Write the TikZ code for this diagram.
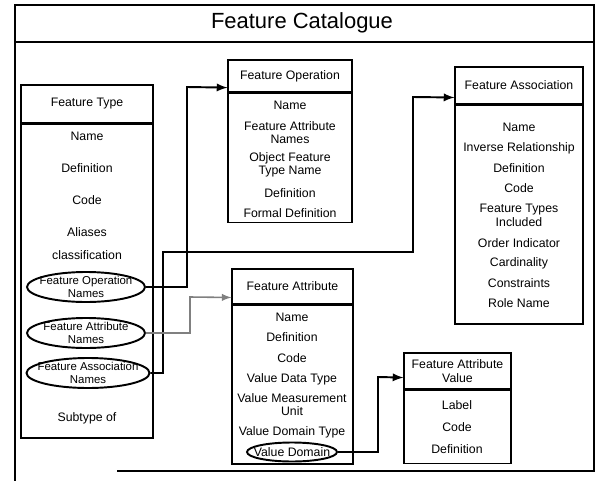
\documentclass[tikz,border=0pt]{standalone}
\usepackage{fontspec}
\setmainfont{Liberation Sans}
\usepackage{tikz}
\usetikzlibrary{arrows,shapes,positioning}
\tikzset{hdr/.style={draw, line width=0.6pt, inner sep=0pt, align=center, font=\fontsize{7}{7.6}\selectfont},
         boxbody/.style={draw, line width=0.6pt, inner sep=0pt, anchor=north},
         itm/.style={align=center, inner sep=0pt, font=\fontsize{7}{7.6}\selectfont},
         ovaltext/.style={align=center, inner sep=0pt, font=\fontsize{6.5}{7.2}\selectfont},
         oval/.style={draw, ellipse, line width=1.1pt, inner sep=0pt},
         conn/.style={line width=1.1pt, ->, >=latex}}

\begin{document}
\begin{tikzpicture}[x=0.02cm, y=-0.02cm]
\useasboundingbox (0,0) rectangle (600,481);

% frame and title
\draw[line width=1.1pt] (15,481) -- (15,5) -- (594,5) -- (594,471) -- (117,471);
\draw[line width=1.1pt] (15,42) -- (594,42);
\node[font=\fontsize{12.5}{14}\selectfont] (title) at (302,23) {Feature Catalogue};

% Feature Type
\node[hdr, minimum width=2.64cm, minimum height=0.76cm] (ftypehead) at (87,104) {Feature Type};
\node[boxbody, minimum width=2.64cm, minimum height=6.28cm] (ftypebody) at (ftypehead.south) {};
\node[itm] (ftname) at (87,136) {Name};
\node[itm] (ftdef) at (87,168) {Definition};
\node[itm] (ftcode) at (87,200) {Code};
\node[itm] (ftalias) at (87,232) {Aliases};
\node[itm] (ftclass) at (87,255) {classification};
\node[oval, minimum width=2.36cm, minimum height=0.6cm] (fon) at (86,287) {};
\node[ovaltext] at (fon) {Feature Operation\\Names};
\node[oval, minimum width=2.36cm, minimum height=0.6cm] (fan) at (86,333) {};
\node[ovaltext] at (fan) {Feature Attribute\\Names};
\node[oval, minimum width=2.46cm, minimum height=0.6cm] (fasn) at (88,373) {};
\node[ovaltext] at (fasn) {Feature Association\\Names};
\node[itm] (ftsub) at (87,418) {Subtype of};

% Feature Operation
\node[hdr, minimum width=2.48cm, minimum height=0.64cm] (fophead) at (290,76) {Feature Operation};
\node[boxbody, minimum width=2.48cm, minimum height=2.58cm] (fopbody) at (fophead.south) {};
\node[itm] (foname) at (290,105) {Name};
\node[itm] (foattr) at (290,132.5) {Feature Attribute\\Names};
\node[itm] (foobj) at (290,165) {Object Feature\\Type Name};
\node[itm] (fodef) at (290,193) {Definition};
\node[itm] (foformal) at (290,213) {Formal Definition};

% Feature Association
\node[hdr, minimum width=2.56cm, minimum height=0.74cm] (fassochead) at (519,85.5) {Feature Association};
\node[boxbody, minimum width=2.56cm, minimum height=4.38cm] (fassocbody) at (fassochead.south) {};
\node[itm] (faname) at (519,127) {Name};
\node[itm] (fainv) at (519,148) {Inverse Relationship};
\node[itm] (fadef) at (519,168) {Definition};
\node[itm] (facode) at (519,188) {Code};
\node[itm] (fatypes) at (519,215.5) {Feature Types\\Included};
\node[itm] (faorder) at (519,243) {Order Indicator};
\node[itm] (facard) at (519,263) {Cardinality};
\node[itm] (facons) at (519,283) {Constraints};
\node[itm] (farole) at (519,303) {Role Name};

% Feature Attribute
\node[hdr, minimum width=2.42cm, minimum height=0.7cm] (fattrhead) at (292.5,286.5) {Feature Attribute};
\node[boxbody, minimum width=2.42cm, minimum height=3.18cm] (fattrbody) at (fattrhead.south) {};
\node[itm] (atname) at (292,317) {Name};
\node[itm] (atdef) at (292,337) {Definition};
\node[itm] (atcode) at (292,358) {Code};
\node[itm] (atdata) at (292,379) {Value Data Type};
\node[itm] (atunit) at (292,404.5) {Value Measurement\\Unit};
\node[itm] (atdomtype) at (292,432) {Value Domain Type};
\node[oval, minimum width=1.8cm, minimum height=0.38cm] (vd) at (292,452) {};
\node[itm] at (vd) {Value Domain};

% Feature Attribute Value
\node[hdr, minimum width=2.14cm, minimum height=0.72cm] (favhead) at (457.5,371) {Feature Attribute\\Value};
\node[boxbody, minimum width=2.14cm, minimum height=1.46cm] (favbody) at (favhead.south) {};
\node[itm] (avlabel) at (457,405) {Label};
\node[itm] (avcode) at (457,427) {Code};
\node[itm] (avdef) at (457,449) {Definition};

% links
\draw[conn] (fon.east) -| (187,87) -- ([yshift=2.8pt]fophead.south west);
\draw[conn] (fasn.east) -| (163,252) -| (413,97) -- ([yshift=4pt]fassochead.south west);
\draw[conn, gray, line width=0.9pt] (fan.east) -| (190,297) -- ([yshift=4pt]fattrhead.south west);
\draw[conn] (vd.east) -| (378,377) -- ([yshift=6.8pt]favhead.south west);

\end{tikzpicture}
\end{document}
